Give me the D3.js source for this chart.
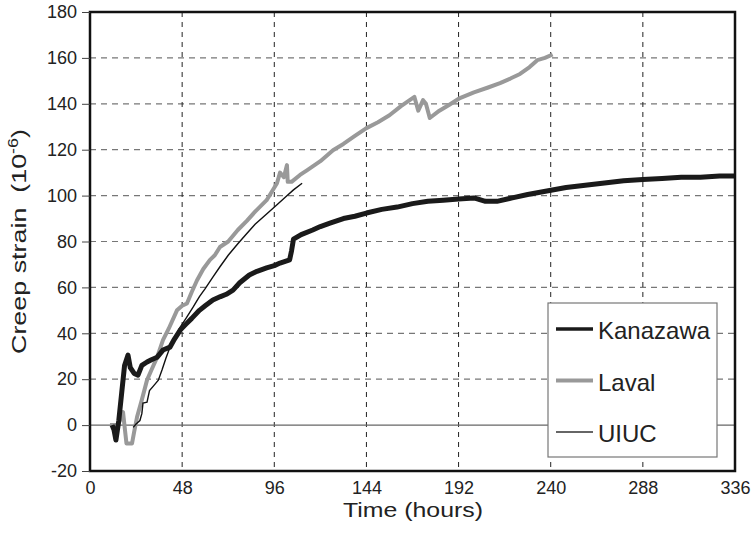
<!DOCTYPE html>
<html>
<head>
<meta charset="utf-8">
<script src="https://cdn.jsdelivr.net/npm/d3@7"></script>
<style>
  body { margin: 0; background: #fff; }
  svg text { font-family: "Liberation Sans", Arial, sans-serif; fill: #222; }
</style>
</head>
<body>
<div id="chart"></div>
<script>
// x ticks (hours) and y ticks (microstrain)
const xTicks = [0, 48, 96, 144, 192, 240, 288, 336];
const yTicks = [-20, 0, 20, 40, 60, 80, 100, 120, 140, 160, 180];

// Kanazawa: [time, strain]
const kanazawa = [
  [11.5, 0], [12.5, -2], [13.5, -6.5], [15, 2], [16.5, 14], [18, 26], [19.8, 30.5],
  [21, 25], [23, 22.5], [25, 21.8], [27, 26], [29.7, 27.5], [32, 28.5], [35, 29.6],
  [38, 32.7], [41.7, 34], [44, 37.5], [47, 41.4], [50, 44], [53, 46.5], [57, 50],
  [60, 52], [64, 54.5], [68, 56], [71, 57], [74.5, 58.8], [78, 62], [83, 65.4],
  [87, 67], [92, 68.5], [96, 69.5], [99, 70.6], [104, 72], [105, 76], [106, 81],
  [110, 83], [116, 85], [120, 86.5], [125, 88], [132, 90], [138, 91], [144, 92.4],
  [152, 94], [160, 95], [168, 96.5], [176, 97.5], [184, 98], [192, 98.5], [200, 99],
  [206, 97.5], [212, 97.5], [220, 99], [228, 100.5], [238, 102], [248, 103.5],
  [258, 104.5], [268, 105.5], [278, 106.5], [288, 107], [298, 107.5], [308, 108],
  [318, 108], [328, 108.5], [336, 108.5]
];

// Laval: [time, strain]
const laval = [
  [10.4, 0], [14.6, 0], [16, 3], [17.2, 5.7], [18.2, -2], [19, -8], [21.9, -8],
  [23, -3], [24.5, 3.5], [27, 11], [29.7, 19.6], [32, 24], [35, 29.6], [38, 37],
  [41, 42], [45.3, 50], [48, 52], [50.5, 53], [53, 58], [55.7, 63], [59, 68],
  [62.5, 72], [65, 74], [67.7, 77.6], [72, 80], [77, 85], [81.7, 89], [86, 93],
  [92, 98], [97.4, 105.4], [99, 110], [101, 108], [102.6, 113.3], [103, 106],
  [105, 106], [109.4, 109], [113, 111], [120, 115], [126.6, 119.8], [132, 122.5],
  [138, 126], [144, 129.4], [150, 132], [156, 135], [162, 139], [169, 143],
  [171, 137], [173.5, 141.6], [175, 140], [177, 133.8], [182, 137], [187, 139.5],
  [192.7, 142.5], [200, 145], [207, 147], [213.6, 149], [219, 151], [224, 153],
  [229, 156], [233, 159], [237, 160], [241, 161.5]
];

// UIUC: [time, strain]
const uiuc = [
  [22.5, -1], [24, 0.5], [26, 2], [27, 5], [27.6, 9.6], [29.7, 10], [31, 15],
  [33, 17], [35.6, 19.6], [37.5, 24], [39.5, 29], [41.7, 34], [44, 38], [47, 42.7],
  [50, 46.5], [53.7, 51.4], [57, 56], [60, 59.5], [64, 64.5], [67.7, 69], [72, 74],
  [77, 79], [81.7, 83.5], [86, 87.5], [92, 92], [97.4, 96], [102, 99.5],
  [106, 102.5], [110.5, 105.4]
];

const seriesNames = ['Kanazawa', 'Laval', 'UIUC'];

const width = 753, height = 533;
const margin = { left: 90, right: 18, top: 12, bottom: 62 };

const svg = d3.select('#chart').append('svg')
  .attr('width', width)
  .attr('height', height);

const x = d3.scaleLinear().domain([0, 336]).range([margin.left, width - margin.right]);
const y = d3.scaleLinear().domain([-20, 180]).range([height - margin.bottom, margin.top]);

// grid: horizontal dashed (grey), vertical dashed (dark)
svg.append('g')
  .selectAll('line')
  .data(yTicks.filter(d => d > -20 && d < 180 && d !== 0))
  .enter().append('line')
  .attr('x1', x(0)).attr('x2', x(336))
  .attr('y1', d => y(d)).attr('y2', d => y(d))
  .attr('stroke', '#777')
  .attr('stroke-width', 1.2)
  .attr('stroke-dasharray', '6,5');

svg.append('g')
  .selectAll('line')
  .data(xTicks.filter(d => d > 0 && d < 336))
  .enter().append('line')
  .attr('x1', d => x(d)).attr('x2', d => x(d))
  .attr('y1', y(180)).attr('y2', y(-20))
  .attr('stroke', '#222')
  .attr('stroke-width', 1)
  .attr('stroke-dasharray', '5,5');

// zero line
svg.append('line')
  .attr('x1', x(0)).attr('x2', x(336))
  .attr('y1', y(0)).attr('y2', y(0))
  .attr('stroke', '#666')
  .attr('stroke-width', 1.2);

// series
const line = d3.line().x(d => x(d[0])).y(d => y(d[1]));

svg.append('path')
  .datum(laval)
  .attr('d', line)
  .attr('fill', 'none')
  .attr('stroke', '#999')
  .attr('stroke-width', 4)
  .attr('stroke-linejoin', 'round');

svg.append('path')
  .datum(uiuc)
  .attr('d', line)
  .attr('fill', 'none')
  .attr('stroke', '#111')
  .attr('stroke-width', 1.4);

svg.append('path')
  .datum(kanazawa)
  .attr('d', line)
  .attr('fill', 'none')
  .attr('stroke', '#1a1a1a')
  .attr('stroke-width', 5)
  .attr('stroke-linejoin', 'round');

// frame
svg.append('rect')
  .attr('x', x(0)).attr('y', y(180))
  .attr('width', x(336) - x(0))
  .attr('height', y(-20) - y(180))
  .attr('fill', 'none')
  .attr('stroke', '#111')
  .attr('stroke-width', 2.5);

// y axis ticks and labels
const yAxis = d3.axisLeft(y).tickValues(yTicks).tickSize(8).tickPadding(5)
  .tickFormat(d => String(d));
const gy = svg.append('g').attr('transform', `translate(${x(0)},0)`).call(yAxis);
gy.select('.domain').remove();
gy.selectAll('line').attr('stroke', '#444').attr('stroke-width', 1);
gy.selectAll('text').style('font-size', '18px').attr('fill', '#222');

// x axis labels
const xAxis = d3.axisBottom(x).tickValues(xTicks).tickSize(0).tickPadding(10);
const gx = svg.append('g').attr('transform', `translate(0,${y(-20)})`).call(xAxis);
gx.select('.domain').remove();
gx.selectAll('text').style('font-size', '18px').attr('fill', '#222');

// axis titles
svg.append('text')
  .attr('x', 343)
  .attr('y', 517)
  .attr('textLength', 140)
  .attr('lengthAdjust', 'spacingAndGlyphs')
  .style('font-size', '21px')
  .text('Time (hours)');

const yTitle = svg.append('text')
  .attr('transform', `translate(26,${(y(180) + y(-20)) / 2}) rotate(-90) scale(1.28,1)`)
  .attr('text-anchor', 'middle')
  .style('font-size', '21px');
yTitle.append('tspan').text('Creep strain\u00a0\u00a0(10');
yTitle.append('tspan').attr('dy', -8).style('font-size', '14px').text('-6');
yTitle.append('tspan').attr('dy', 8).text(')');

// legend
const legend = svg.append('g').attr('transform', 'translate(548,303)');
legend.append('rect')
  .attr('width', 169).attr('height', 154)
  .attr('fill', '#fff')
  .attr('stroke', '#777')
  .attr('stroke-width', 1.2);

const legendStyles = [
  { color: '#1a1a1a', w: 3.5 },
  { color: '#999', w: 4 },
  { color: '#333', w: 1.3 }
];

const items = legend.selectAll('.legend-item')
  .data(seriesNames)
  .enter().append('g')
  .attr('class', 'legend-item')
  .attr('transform', (d, i) => `translate(0,${26 + i * 51.5})`);

items.append('line')
  .attr('x1', 8).attr('x2', 45)
  .attr('stroke', (d, i) => legendStyles[i].color)
  .attr('stroke-width', (d, i) => legendStyles[i].w);

items.append('text')
  .attr('x', 50)
  .attr('y', 10)
  .style('font-size', '24px')
  .text(d => d);
</script>
</body>
</html>
